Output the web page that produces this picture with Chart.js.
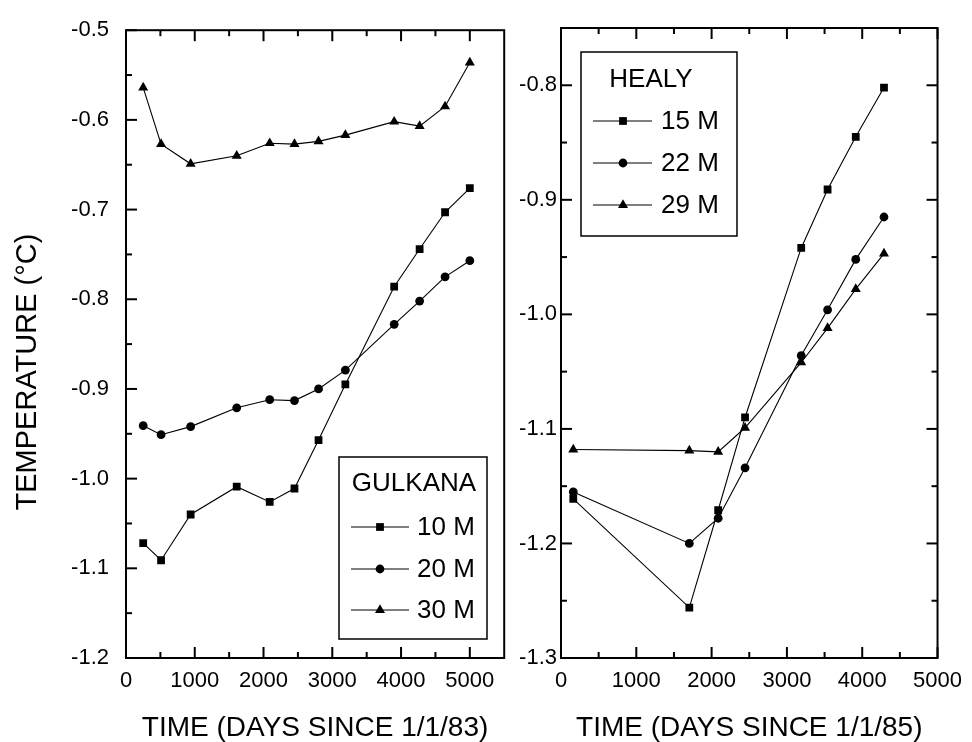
<!DOCTYPE html>
<html><head><meta charset="utf-8">
<script src="https://cdn.jsdelivr.net/npm/chart.js@4.4.1/dist/chart.umd.min.js"></script>
<style>
html,body{margin:0;padding:0;background:#fff;}
#wrap{position:relative;width:972px;height:742px;overflow:hidden;}
#c1{position:absolute;left:0;top:0;}
#c2{position:absolute;left:510px;top:0;}
</style></head><body>
<div id="wrap"><canvas id="c1" width="510" height="742"></canvas><canvas id="c2" width="462" height="742"></canvas></div>
<script>
// ---------- data ----------
const gulkanaDays = [250, 510, 940, 1610, 2090, 2450, 2800, 3190, 3900, 4270, 4640, 5000];
const gulkana10m = [-1.072, -1.091, -1.040, -1.009, -1.026, -1.011, -0.957, -0.895, -0.786, -0.744, -0.703, -0.676];
const gulkana20m = [-0.941, -0.951, -0.942, -0.921, -0.912, -0.913, -0.900, -0.879, -0.828, -0.802, -0.775, -0.757];
const gulkana30m = [-0.564, -0.627, -0.649, -0.640, -0.626, -0.627, -0.624, -0.617, -0.602, -0.607, -0.585, -0.536];

const healyDays = [163, 1704, 2087, 2444, 3190, 3540, 3914, 4289];
const healy15m = [-1.161, -1.256, -1.171, -1.090, -0.942, -0.891, -0.845, -0.802];
const healy22m = [-1.155, -1.200, -1.178, -1.134, -1.036, -0.996, -0.952, -0.915];
const healy29m = [-1.118, -1.119, -1.120, -1.099, -1.042, -1.012, -0.978, -0.947];

const gulkanaLabels = ['10 M', '20 M', '30 M'];
const healyLabels = ['15 M', '22 M', '29 M'];
const gulkanaTitle = 'GULKANA';
const healyTitle = 'HEALY';
const yAxisTitle = 'TEMPERATURE (°C)';
const gulkanaXTitle = 'TIME (DAYS SINCE 1/1/83)';
const healyXTitle = 'TIME (DAYS SINCE 1/1/85)';

// tick values
const gulkanaXTicks = [0, 1000, 2000, 3000, 4000, 5000];
const gulkanaXMinor = [500, 1500, 2500, 3500, 4500];
const gulkanaYTicks = [-1.2, -1.1, -1.0, -0.9, -0.8, -0.7, -0.6, -0.5];
const gulkanaYMinor = [-1.15, -1.05, -0.95, -0.85, -0.75, -0.65, -0.55];
const healyXTicks = [0, 1000, 2000, 3000, 4000, 5000];
const healyXMinor = [500, 1500, 2500, 3500, 4500];
const healyYTicks = [-1.3, -1.2, -1.1, -1.0, -0.9, -0.8];
const healyYMinor = [-1.25, -1.15, -1.05, -0.95, -0.85];

// ---------- styling / plugins ----------
const FONT = '"Liberation Sans", Arial, Helvetica, sans-serif';
Chart.defaults.font.family = FONT;
Chart.defaults.color = '#000';

const pts = (xs, ys) => xs.map((x, i) => ({x, y: ys[i]}));
const markers = [
  {pointStyle: 'rect', pointRadius: 5.5},
  {pointStyle: 'circle', pointRadius: 4.4},
  {pointStyle: 'triangle', pointRadius: 5.8}
];
function makeDatasets(xs, series, labels) {
  return series.map((s, i) => Object.assign({
    label: labels[i],
    data: pts(xs, s),
    borderColor: '#000',
    borderWidth: 1.1,
    pointBackgroundColor: '#000',
    pointBorderColor: '#000',
    pointBorderWidth: 0,
    tension: 0,
    fill: false
  }, markers[i]));
}

const frameTicks = {
  id: 'frameTicks',
  afterDatasetsDraw(chart, args, o) {
    const {ctx, chartArea: a, scales: {x, y}} = chart;
    ctx.save();
    ctx.strokeStyle = '#000';
    ctx.lineWidth = 2;
    const seg = (x0, y0, x1, y1) => { ctx.beginPath(); ctx.moveTo(x0, y0); ctx.lineTo(x1, y1); ctx.stroke(); };
    const xt = (vals, len) => vals.forEach(v => {
      const px = x.getPixelForValue(v);
      seg(px, a.bottom, px, a.bottom - len);
      if (o.top) seg(px, a.top, px, a.top + len);
    });
    const yt = (vals, len) => vals.forEach(v => {
      const py = y.getPixelForValue(v);
      seg(a.left, py, a.left + len, py);
      if (o.right) seg(a.right, py, a.right - len, py);
    });
    xt(o.xMajor, 11); xt(o.xMinor, 6);
    yt(o.yMajor, 11); yt(o.yMinor, 6);
    ctx.strokeRect(a.left, a.top, a.right - a.left, a.bottom - a.top);
    ctx.restore();
  }
};

const boxLegend = {
  id: 'boxLegend',
  afterDraw(chart, args, o) {
    const ctx = chart.ctx;
    ctx.save();
    ctx.strokeStyle = '#000';
    ctx.fillStyle = '#000';
    ctx.lineWidth = 1.5;
    ctx.strokeRect(o.box[0], o.box[1], o.box[2], o.box[3]);
    ctx.font = '26px ' + FONT;
    ctx.textBaseline = 'middle';
    ctx.textAlign = 'center';
    ctx.fillText(o.title, o.titleX, o.titleY);
    ctx.textAlign = 'left';
    chart.data.datasets.forEach((ds, i) => {
      const yy = o.rows[i];
      ctx.lineWidth = 1;
      ctx.beginPath(); ctx.moveTo(o.lineX0, yy); ctx.lineTo(o.lineX1, yy); ctx.stroke();
      Chart.helpers.drawPoint(ctx, {pointStyle: ds.pointStyle, radius: ds.pointRadius, rotation: 0, borderWidth: 0}, o.markerX, yy);
      ctx.fillStyle = '#000';
      ctx.fillText(ds.label, o.textX, yy + 1);
    });
    ctx.restore();
  }
};

const sideTitle = {
  id: 'sideTitle',
  afterDraw(chart, args, o) {
    if (!o.text) return;
    const ctx = chart.ctx;
    ctx.save();
    ctx.translate(o.x, o.y);
    ctx.rotate(-Math.PI / 2);
    ctx.font = o.size + 'px ' + FONT;
    ctx.fillStyle = '#000';
    ctx.textAlign = 'center';
    ctx.textBaseline = 'middle';
    ctx.fillText(o.text, 0, 0);
    ctx.restore();
  }
};

function makeChart(canvas, cfg) {
  return new Chart(canvas, {
    type: 'line',
    data: {datasets: makeDatasets(cfg.xs, cfg.series, cfg.labels)},
    options: {
      responsive: false,
      animation: false,
      devicePixelRatio: 1,
      events: [],
      layout: {padding: {left: 0, right: cfg.padRight, top: 28, bottom: 0}},
      plugins: {
        legend: {display: false},
        tooltip: {enabled: false},
        frameTicks: {xMajor: cfg.xTicks, xMinor: cfg.xMinor, yMajor: cfg.yTicks, yMinor: cfg.yMinor, top: true, right: cfg.rightTicks},
        boxLegend: cfg.legend,
        sideTitle: cfg.sideTitle || {}
      },
      scales: {
        x: {
          type: 'linear', min: cfg.xMin, max: cfg.xMax,
          afterBuildTicks: s => { s.ticks = cfg.xTicks.map(v => ({value: v})); },
          afterFit: s => { s.height = 84; },
          grid: {display: false, drawTicks: false},
          border: {display: false},
          ticks: {font: {size: 22}, color: '#000', padding: 10, maxRotation: 0, autoSkip: false, callback: v => String(v)},
          title: {display: true, text: cfg.xTitle, font: {size: 28, lineHeight: 1}, color: '#000', padding: {top: 0, bottom: 0}}
        },
        y: {
          type: 'linear', min: cfg.yMin, max: cfg.yMax,
          afterBuildTicks: s => { s.ticks = cfg.yTicks.map(v => ({value: v})); },
          afterFit: s => { s.width = cfg.yWidth; },
          grid: {display: false, drawTicks: false},
          border: {display: false},
          ticks: {font: {size: 22}, color: '#000', padding: cfg.yPad, autoSkip: false, callback: v => Number(v).toFixed(1)}
        }
      }
    },
    plugins: [frameTicks, boxLegend, sideTitle]
  });
}

makeChart(document.getElementById('c1'), {
  xs: gulkanaDays, series: [gulkana10m, gulkana20m, gulkana30m], labels: gulkanaLabels,
  xMin: 0, xMax: 5500, yMin: -1.2, yMax: -0.5,
  xTicks: gulkanaXTicks, xMinor: gulkanaXMinor, yTicks: gulkanaYTicks, yMinor: gulkanaYMinor,
  rightTicks: false, padRight: 4, yWidth: 126, yPad: 17, xTitle: gulkanaXTitle,
  legend: {box: [339, 457, 148, 182], title: gulkanaTitle, titleX: 414, titleY: 484,
           rows: [527, 569, 610], lineX0: 351, lineX1: 409, markerX: 380, textX: 417},
  sideTitle: {text: yAxisTitle, x: 28, y: 372, size: 29}
});

makeChart(document.getElementById('c2'), {
  xs: healyDays, series: [healy15m, healy22m, healy29m], labels: healyLabels,
  xMin: 0, xMax: 5000, yMin: -1.3, yMax: -0.75,
  xTicks: healyXTicks, xMinor: healyXMinor, yTicks: healyYTicks, yMinor: healyYMinor,
  rightTicks: true, padRight: 32, yWidth: 51, yPad: 4, xTitle: healyXTitle,
  legend: {box: [71, 52, 156, 184], title: healyTitle, titleX: 141, titleY: 80,
           rows: [121, 163, 205], lineX0: 83, lineX1: 142, markerX: 113, textX: 151}
});
</script>
</body></html>
